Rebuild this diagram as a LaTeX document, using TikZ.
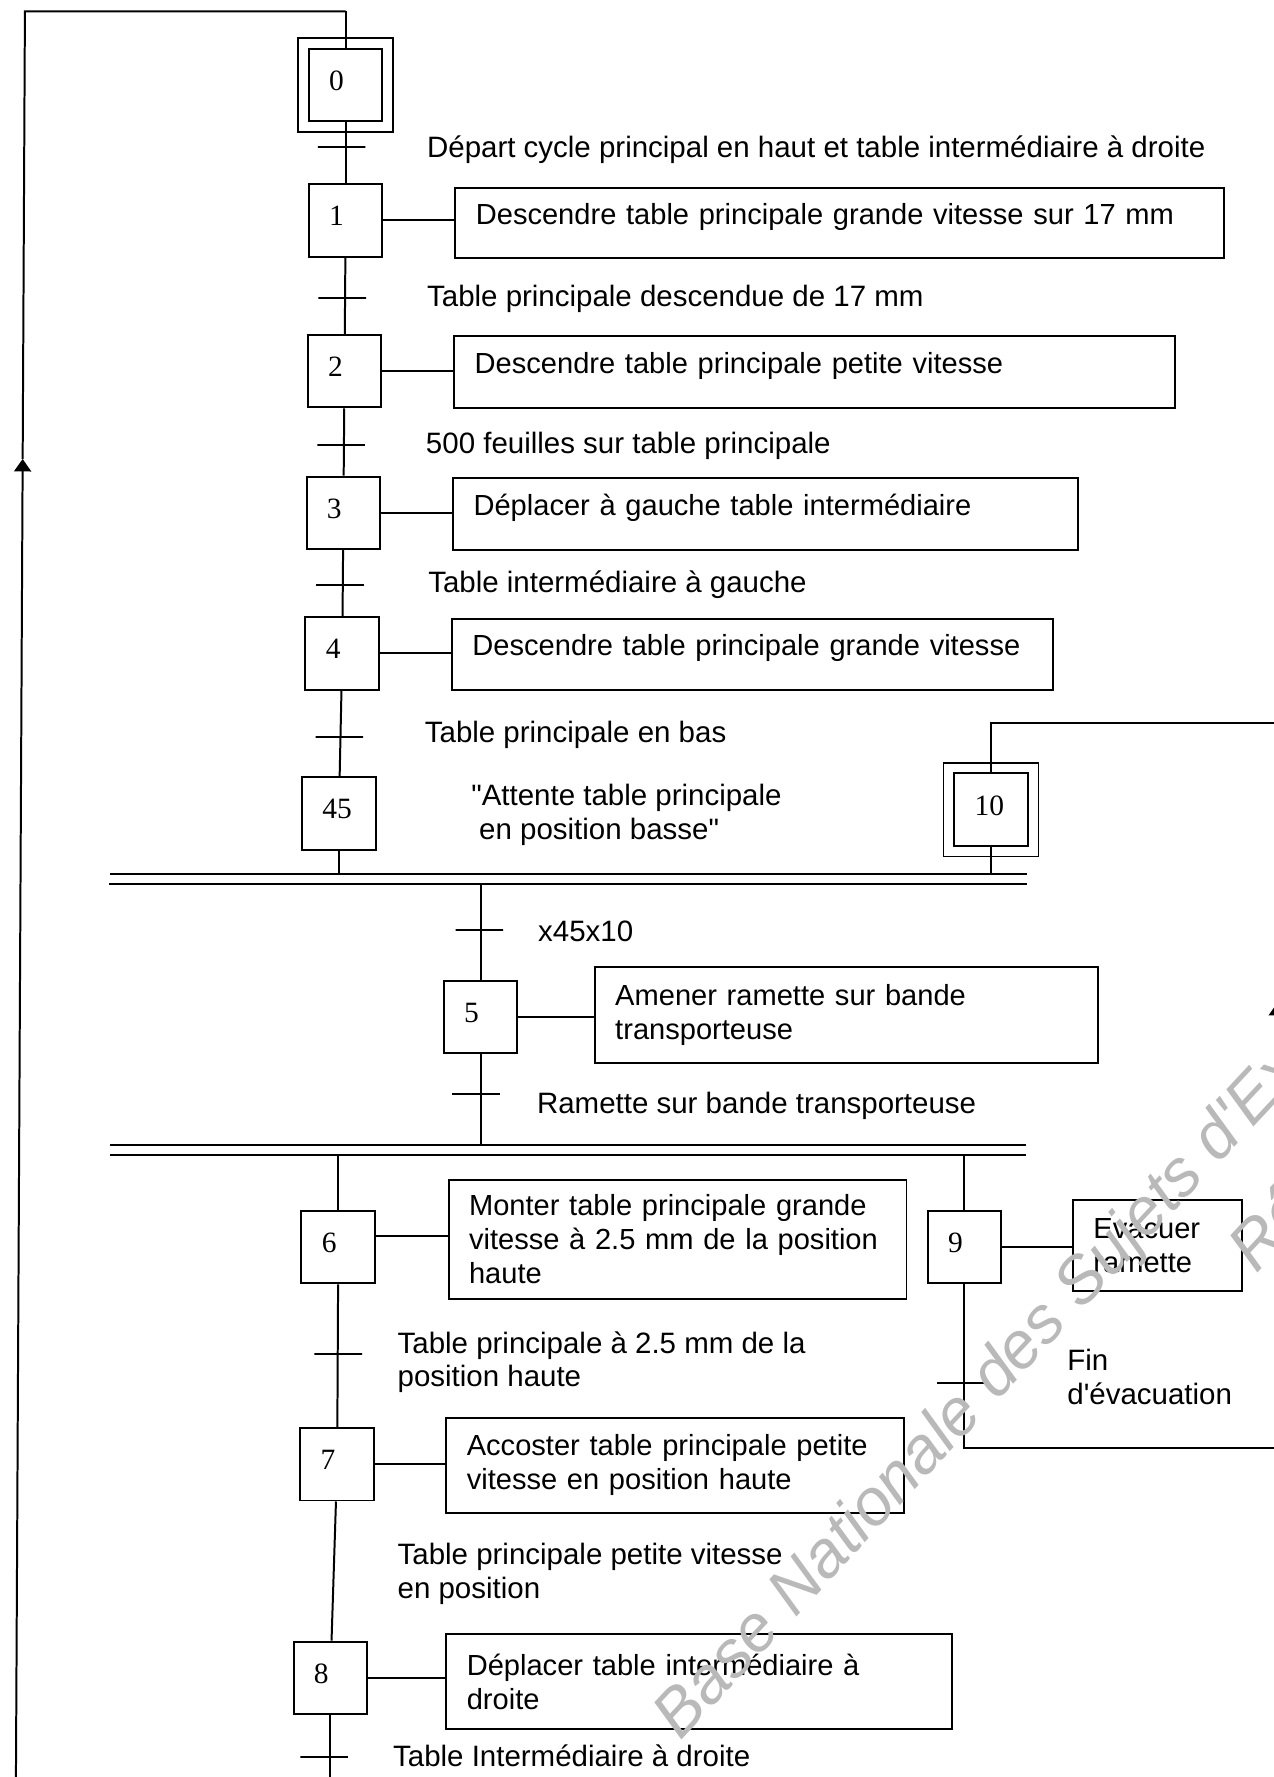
\documentclass[tikz,border=0pt]{standalone}
\usepackage{fontspec}
\setmainfont{Liberation Sans}[Ligatures=TeXOff]
\newfontfamily\numfont{Liberation Serif}
\usetikzlibrary{arrows.meta, positioning, fit}

\begin{document}
\begin{tikzpicture}[x=0.1mm, y=-0.1mm, line width=0.5pt,
    font=\fontsize{7.4}{8.5}\selectfont,
    stepbox/.style={draw, font=\numfont\fontsize{7.4}{8.5}\selectfont, text width=2.9mm,
        inner xsep=1.8mm, inner ysep=0pt, minimum height=6.4mm, text depth=0.8mm, align=left},
    initbox/.style={draw, inner sep=0.85mm, line width=0.4pt},
    actbox/.style={draw, anchor=north west, inner xsep=1.8mm, inner ysep=0pt, align=left,
        font=\fontsize{7.3}{8.5}\selectfont},
    transbar/.style={draw, minimum width=4.2mm, minimum height=0pt, inner sep=0pt},
    cond/.style={anchor=west, inner sep=0pt, align=left},
    wmark/.style={text=gray!55, font=\itshape\fontsize{16.5}{19}\selectfont, inner sep=0pt,
        rotate=47, anchor=base west}]
\useasboundingbox (0,0) rectangle (1124,1568);

% steps
\node[stepbox] (s0) at (305,75) {0};
\node[initbox, fit=(s0)] (s0f) {};
\node[stepbox] (s1) at (305,194.5) {1};
\node[stepbox] (s2) at (304,327.5) {2};
\node[stepbox] (s3) at (303,452.5) {3};
\node[stepbox] (s4) at (302,576.5) {4};
\node[stepbox] (s45) at (299,718) {45};
\node[stepbox] (s10) at (874.5,714.5) {10};
\node[initbox, fit=(s10)] (s10f) {};
\node[stepbox] (s5) at (424,897.5) {5};
\node[stepbox] (s6) at (298.5,1100.5) {6};
\node[stepbox] (s9) at (851,1100.5) {9};
\node[stepbox] (s7) at (297.5,1292) {7};
\node[stepbox] (s8) at (291.5,1480.5) {8};

% actions
\node[actbox, text width=64.2mm, minimum height=6.2mm, text depth=1.6mm] (a1) at (401,165) {Descendre table principale grande vitesse sur 17 mm};
\node[actbox, text width=60.0mm, minimum height=6.3mm, text depth=1.6mm] (a2) at (400,296) {Descendre table principale petite vitesse};
\node[actbox, text width=51.5mm, minimum height=6.3mm, text depth=1.6mm] (a3) at (399,421) {Déplacer à gauche table intermédiaire};
\node[actbox, text width=49.4mm, minimum height=6.3mm, text depth=1.6mm] (a4) at (398,545) {Descendre table principale grande vitesse};
\node[actbox, text width=40.8mm, minimum height=8.5mm] (a5) at (524,852) {Amener ramette sur bande\\transporteuse};
\node[actbox, text width=36.8mm, minimum height=10.5mm] (a6) at (395,1040) {Monter table principale grande\\vitesse à 2.5 mm de la position\\haute};
\node[actbox, text width=11.3mm, minimum height=8.0mm] (a9) at (946,1058) {Evacuer\\ramette};
\node[actbox, text width=36.8mm, minimum height=8.4mm] (a7) at (393,1250) {Accoster table principale petite\\vitesse en position haute};
\node[actbox, text width=41.0mm, minimum height=8.4mm] (a8) at (393,1441) {Déplacer table intermédiaire à\\droite};

\foreach \s in {1,2,3,4,5,9,7,8}
    \draw (s\s) -- (s\s -| a\s.west);
\draw ([yshift=1mm]s6.east) -- ([yshift=1mm]s6.east -| a6.west);

% transitions
\node[transbar] (t1) at (301.5,130) {};
\node[transbar] (t2) at (302,263) {};
\node[transbar] (t3) at (301,393) {};
\node[transbar] (t4) at (300,516) {};
\node[transbar] (t45) at (299.5,650) {};
\node[transbar] (t5) at (423,820.5) {};
\node[transbar] (t56) at (420,965) {};
\node[transbar] (t67) at (298.5,1195) {};
\node[transbar] (t8) at (286,1550) {};
\node[transbar] (t9) at (848,1220) {};

\node[cond] (c1) at (376,132) {Départ cycle principal en haut et table intermédiaire à droite};
\node[cond] (c2) at (376,264) {Table principale descendue de 17 mm};
\node[cond] (c3) at (375,393) {500 feuilles sur table principale};
\node[cond] (c4) at (377,516) {Table intermédiaire à gauche};
\node[cond] (c45) at (374,648) {Table principale en bas};
\node[cond] (w45) at (415,719) {"Attente table principale\\\hspace*{0.7mm}en position basse"};
\node[cond] (c5) at (474,822) {x45x10};
\node[cond] (c56) at (473,976) {Ramette sur bande transporteuse};
\node[cond] (c67) at (350,1202) {Table principale à 2.5 mm de la\\position haute};
\node[cond] (c78) at (350,1389) {Table principale petite vitesse\\en position};
\node[cond] (c8) at (346,1549) {Table Intermédiaire à droite};
\node[cond] (c9) at (941,1215) {Fin\\d'évacuation};

% sequence links
\draw (305,10) -- (s0);
\draw (s0) -- (s1);
\draw (s1) -- (s2);
\draw (s2) -- (s3);
\draw (s3) -- (s4);
\draw (s4) -- (s45);

% synchronisation bars
\coordinate (j1a) at (97,771);
\coordinate (j1b) at (96,780);
\coordinate (j2a) at (97,1010);
\coordinate (j2b) at (97,1019);
\draw (j1a) -- ++(809,0) (j1b) -- ++(810,0);
\draw (j2a) -- ++(808,0) (j2b) -- ++(808,0);

\draw (s45) -- (s45 |- j1a);
\draw (s10) -- (s10 |- j1a);
\draw (s5 |- j1b) -- (s5);
\draw (s5) -- (s5 |- j2a);
\draw (s6 |- j2b) -- (s6);
\draw (s9 |- j2b) -- (s9);
\draw (s6) -- (s7);
\draw (s7) -- (s8);
\coordinate (bot) at (286,1580);
\draw (s8) -- (s8 |- bot);

% return loops
\coordinate (l1) at (20,405);
\draw[-{Triangle[width=1.5mm,length=1.1mm]}] (14,1580) -- (l1);
\draw (l1) -- (22,10) -- (305,10);
\coordinate (r1) at (1127,1278);
\coordinate (r2) at (1127,638);
\coordinate (r3) at (1127,885);
\draw[-{Triangle[width=1.5mm,length=1.1mm]}] (s9) -- (s9 |- r1) -- (r1) -- (r3);
\draw (r3) -- (r2) -- (r2 -| s10) -- (s10);

% watermark
\node[wmark] (wm1) at (600,1537) {Base Nationale des Sujets d'Examens};
\node[wmark] (wm2) at (1108,1125) {Réseau SCEREN};
\end{tikzpicture}
\end{document}
